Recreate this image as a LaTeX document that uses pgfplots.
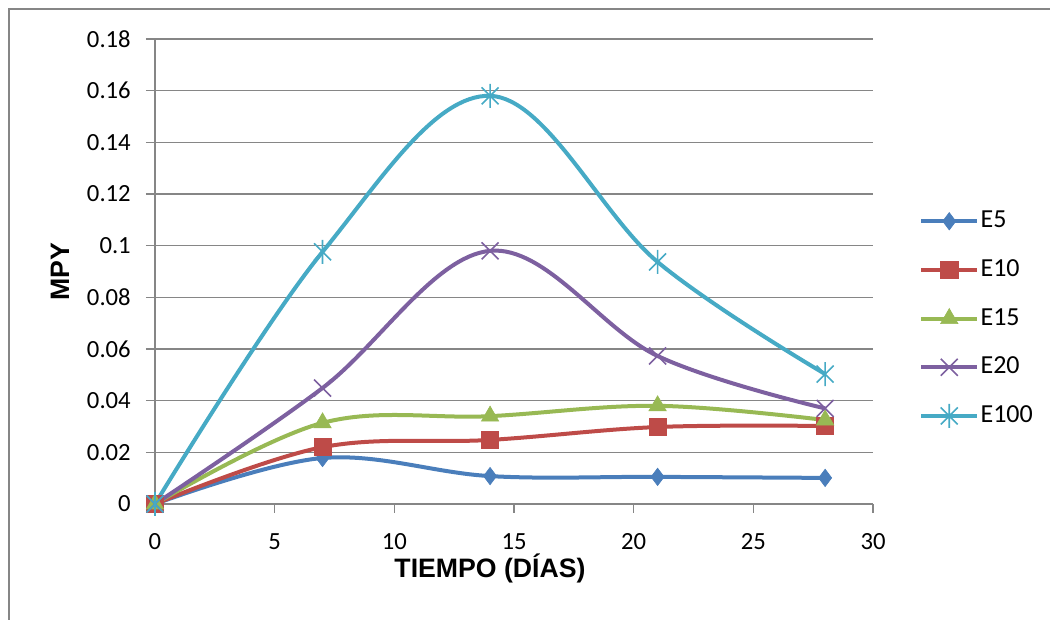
\documentclass[border=0pt]{standalone}
\usepackage{pgfplots}
\pgfplotsset{compat=1.18}
\usepackage{fontspec}
\setmainfont{Carlito}
\newfontfamily\arialb{Liberation Sans}
\definecolor{cE5}{HTML}{4A7EBB}
\definecolor{cE10}{HTML}{BE4B48}
\definecolor{cE15}{HTML}{98B954}
\definecolor{cE20}{HTML}{7D60A0}
\definecolor{cE100}{HTML}{46AAC5}
\definecolor{axgray}{HTML}{868686}
\pgfdeclareplotmark{xstar}{%
  \pgfpathmoveto{\pgfqpoint{-.7071\pgfplotmarksize}{-.7071\pgfplotmarksize}}%
  \pgfpathlineto{\pgfqpoint{.7071\pgfplotmarksize}{.7071\pgfplotmarksize}}%
  \pgfpathmoveto{\pgfqpoint{-.7071\pgfplotmarksize}{.7071\pgfplotmarksize}}%
  \pgfpathlineto{\pgfqpoint{.7071\pgfplotmarksize}{-.7071\pgfplotmarksize}}%
  \pgfpathmoveto{\pgfqpoint{0pt}{-\pgfplotmarksize}}%
  \pgfpathlineto{\pgfqpoint{0pt}{\pgfplotmarksize}}%
  \pgfusepathqstroke}
\begin{document}
\begin{tikzpicture}
\useasboundingbox (0,0) rectangle (787.5pt,465pt);
\draw[color=axgray, line width=1.5pt] (7.1pt,0) -- (7.1pt,457.9pt) -- (787.5pt,457.9pt);
\begin{axis}[
  at={(116.25pt,87pt)}, anchor=origin,
  scale only axis, width=538.5pt, height=348.75pt,
  xmin=0, xmax=30, ymin=0, ymax=0.18,
  xtick={0,5,...,30}, ytick={0,0.02,...,0.18},
  axis x line*=bottom, axis y line*=left,
  axis line style={color=axgray, line width=1.1pt, -},
  tick style={color=axgray, line width=1.1pt},
  tick align=outside, major tick length=6.75pt,
  ymajorgrids, grid style={color=axgray, line width=1.1pt},
  clip=false,
  /pgf/number format/assume math mode=true,
  /pgf/number format/fixed, /pgf/number format/precision=2,
  scaled y ticks=false,
  tick label style={font=\fontsize{18.5}{22}\selectfont, text=black},
  yticklabel style={inner sep=0pt, xshift=-11.25pt},
  xticklabel style={inner sep=0pt, yshift=-15pt},
  xlabel={\arialb\bfseries TIEMPO (DÍAS)},
  ylabel={\arialb\bfseries MPY},
  xlabel style={at={(axis description cs:0.4666,-0.1376)}, anchor=center, font=\fontsize{20}{24}\selectfont},
  ylabel style={at={(axis description cs:-0.1323,0.5)}, anchor=center, font=\fontsize{20}{24}\selectfont},
  every axis plot/.append style={line width=3pt, smooth, tension=0.6},
  legend style={at={(axis description cs:1.0585,0.643)}, anchor=north west, draw=none, fill=none,
    font=\fontsize{19.5}{22}\selectfont, row sep=16.5pt,
    nodes={inner sep=1pt, text height=14pt, text depth=4pt},
    /tikz/every even column/.append style={column sep=2pt}},
  legend cell align=left,
  legend image code/.code={\draw[mark repeat=2,mark phase=2] plot coordinates {(0pt,0pt) (21pt,0pt) (42pt,0pt)};},
]
\addplot[color=cE5, mark=diamond*, mark size=6.5pt, mark options={line width=0.5pt, fill=cE5}] coordinates {(0,0) (7,0.0178) (14,0.0108) (21,0.0105) (28,0.0101)};
\addlegendentry{E5}
\addplot[color=cE10, mark=square*, mark size=6.5pt, mark options={line width=0.5pt, fill=cE10}] coordinates {(0,0) (7,0.0220) (14,0.0248) (21,0.0298) (28,0.0302)};
\addlegendentry{E10}
\addplot[color=cE15, mark=triangle*, mark size=7.5pt, mark options={line width=0.5pt, fill=cE15}] coordinates {(0,0) (7,0.0314) (14,0.0340) (21,0.0380) (28,0.0325)};
\addlegendentry{E15}
\addplot[color=cE20, mark=x, mark size=9pt, mark options={line width=1.2pt}] coordinates {(0,0) (7,0.0449) (14,0.0980) (21,0.0573) (28,0.0370)};
\addlegendentry{E20}
\addplot[color=cE100, mark=xstar, mark size=9pt, mark options={line width=1.2pt}] coordinates {(0,0) (7,0.0976) (14,0.1580) (21,0.0937) (28,0.0503)};
\addlegendentry{E100}
\end{axis}
\end{tikzpicture}
\end{document}
